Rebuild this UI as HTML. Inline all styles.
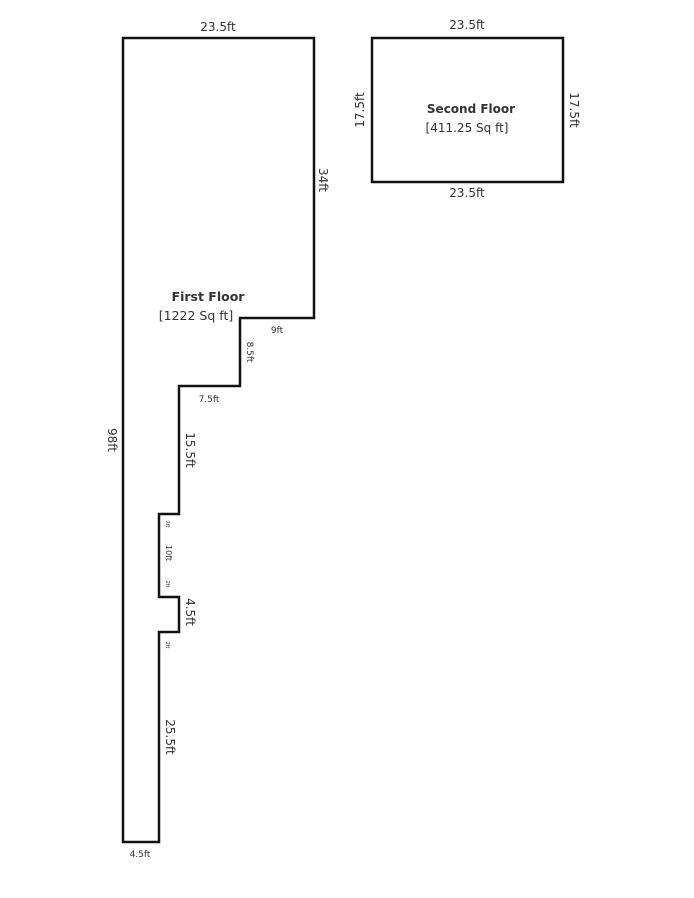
<!DOCTYPE html>
<html><head><style>body{margin:0;background:#fff}svg{display:block}text{font-family:"DejaVu Sans","Liberation Sans",sans-serif;fill:#333}</style></head>
<body>
<svg width="694" height="898" viewBox="0 0 694 898">
<polygon points="123,38 314,38 314,318 240,318 240,386 179,386 179,514 159,514 159,597 179,597 179,632 159,632 159,842 123,842" fill="none" stroke="#111" stroke-width="2.5"/>
<rect x="372" y="38" width="191" height="144" fill="none" stroke="#111" stroke-width="2.5"/>
<g font-size="12" text-anchor="middle">
<text x="218" y="31">23.5ft</text>
<text transform="translate(319,180) rotate(90)">34ft</text>
<text transform="translate(108,440) rotate(90)">98ft</text>
<text x="208" y="301" font-weight="bold" font-size="12.5">First Floor</text>
<text x="196" y="320" font-size="12.5">[1222 Sq ft]</text>
<text x="277" y="333" font-size="9">9ft</text>
<text transform="translate(247,352) rotate(90)" font-size="9">8.5ft</text>
<text x="209" y="402" font-size="9">7.5ft</text>
<text transform="translate(186,450) rotate(90)">15.5ft</text>
<text transform="translate(166,553) rotate(90)" font-size="8">10ft</text>
<text transform="translate(166,524) rotate(90)" font-size="5">2ft</text>
<text transform="translate(166,584) rotate(90)" font-size="5">2ft</text>
<text transform="translate(166,645) rotate(90)" font-size="5">2ft</text>
<text transform="translate(186,612) rotate(90)">4.5ft</text>
<text transform="translate(166,737) rotate(90)">25.5ft</text>
<text x="140" y="857" font-size="9">4.5ft</text>
<text x="467" y="29">23.5ft</text>
<text x="467" y="197">23.5ft</text>
<text transform="translate(364,110) rotate(-90)">17.5ft</text>
<text transform="translate(570,110) rotate(90)">17.5ft</text>
<text x="471" y="113" font-weight="bold">Second Floor</text>
<text x="467" y="132">[411.25 Sq ft]</text>
</g>
</svg>
</body></html>
